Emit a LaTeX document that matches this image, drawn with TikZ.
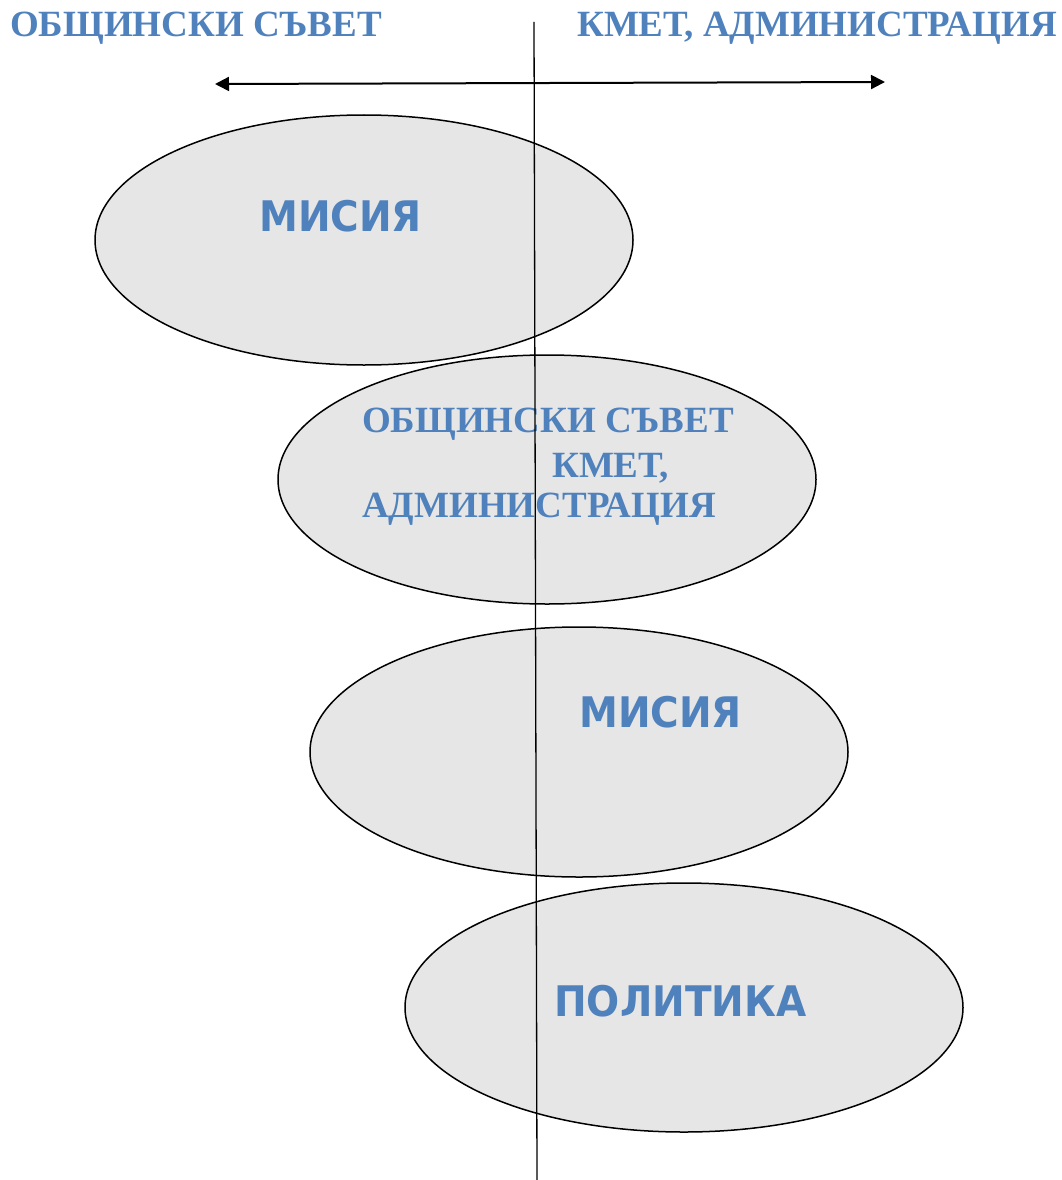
\documentclass[tikz,border=0pt]{standalone}
\usepackage{fontspec}
\setmainfont{Liberation Serif}
\newfontfamily\sansb{DejaVu Sans}
\usetikzlibrary{arrows.meta,shapes.geometric}
\definecolor{txtblue}{HTML}{4F81BD}
\definecolor{ellfill}{HTML}{E6E6E6}
\newcommand{\tallsans}[1]{\scalebox{1}[1.08]{#1}}
\begin{document}
\begin{tikzpicture}[x=1pt,y=-1pt,
  ell/.style={ellipse, draw=black, line width=1.5pt, fill=ellfill, inner sep=0pt},
  serift/.style={text=txtblue, font=\fontsize{37}{44}\selectfont\bfseries, anchor=base west, inner sep=0pt},
  sanst/.style={text=txtblue, font=\sansb\fontsize{39}{47}\selectfont\bfseries, anchor=base west, inner sep=0pt}]
\useasboundingbox (0,0) rectangle (1062,1180);
% ellipses
\node[ell, minimum width=538, minimum height=250] (e1) at (364,240) {};
\node[ell, minimum width=538, minimum height=249] (e2) at (547,479.5) {};
\node[ell, minimum width=538, minimum height=250] (e3) at (579,752) {};
\node[ell, minimum width=558, minimum height=249] (e4) at (684,1007.5) {};
% top labels
\node[serift] (tl) at (10,37) {ОБЩИНСКИ СЪВЕТ};
\node[serift] (tr) at (577,37) {КМЕТ, АДМИНИСТРАЦИЯ};
% ellipse texts
\node[sanst] (m1) at (259,231) {\tallsans{МИСИЯ}};
\node[serift] (o1) at (362,432) {ОБЩИНСКИ СЪВЕТ};
\node[serift] (o2) at (552,477) {КМЕТ,};
\node[serift] (o3) at (362,517) {АДМИНИСТРАЦИЯ};
\node[sanst] (m2) at (579,727) {\tallsans{МИСИЯ}};
\node[sanst] (p1) at (554,1016) {\tallsans{ПОЛИТИКА}};
% arrow
\coordinate (al) at (215,84);
\coordinate (ar) at (885,82);
\draw[line width=2pt, {Triangle[length=14pt,width=14pt]}-{Triangle[length=14pt,width=14pt]}] (al) -- (ar);
% vertical line
\coordinate (vt) at (534,22);
\coordinate (vb) at (537,1180);
\draw[line width=1.3pt] (vt) -- (vb);
\end{tikzpicture}
\end{document}
